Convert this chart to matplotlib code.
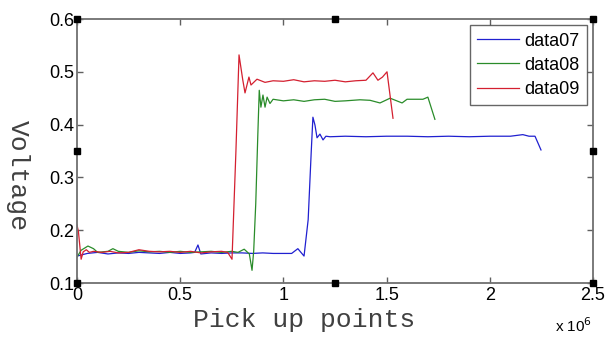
import matplotlib
matplotlib.use("Agg")
import matplotlib.pyplot as plt
from matplotlib.ticker import FuncFormatter

# x positions in units of 1e6 pick up points
x07 = [0, 0.02, 0.05, 0.1, 0.15, 0.2, 0.25, 0.3, 0.35, 0.4, 0.45, 0.5, 0.55, 0.57,
       0.586, 0.6, 0.65, 0.7, 0.75, 0.8, 0.85, 0.9, 0.95, 1.0, 1.04, 1.07, 1.1,
       1.12, 1.135, 1.143, 1.153, 1.163, 1.177, 1.192, 1.206, 1.226, 1.3, 1.4,
       1.5, 1.6, 1.7, 1.8, 1.9, 2.0, 2.1, 2.16, 2.19, 2.219, 2.248]
y07 = [0.151, 0.153, 0.156, 0.158, 0.155, 0.157, 0.156, 0.158, 0.157, 0.156,
       0.158, 0.156, 0.157, 0.158, 0.172, 0.155, 0.157, 0.156, 0.157, 0.157,
       0.156, 0.157, 0.156, 0.156, 0.156, 0.165, 0.151, 0.22, 0.35, 0.414,
       0.399, 0.375, 0.382, 0.371, 0.378, 0.377, 0.378, 0.377, 0.378, 0.378,
       0.377, 0.378, 0.377, 0.378, 0.378, 0.381, 0.378, 0.378, 0.352]

x08 = [0, 0.02, 0.053, 0.08, 0.1, 0.15, 0.174, 0.2, 0.25, 0.3, 0.35, 0.4, 0.45,
       0.5, 0.55, 0.6, 0.65, 0.7, 0.75, 0.78, 0.81, 0.835, 0.848, 0.856, 0.866,
       0.876, 0.883, 0.891, 0.901, 0.911, 0.921, 0.935, 0.95, 1.0, 1.05, 1.1,
       1.15, 1.2, 1.25, 1.3, 1.371, 1.42, 1.468, 1.517, 1.575, 1.599, 1.676,
       1.70, 1.734]
y08 = [0.149, 0.162, 0.17, 0.165, 0.158, 0.16, 0.165, 0.16, 0.158, 0.161,
       0.159, 0.16, 0.158, 0.16, 0.158, 0.159, 0.16, 0.158, 0.16, 0.158, 0.164,
       0.155, 0.124, 0.16, 0.25, 0.38, 0.465, 0.433, 0.456, 0.433, 0.452, 0.44,
       0.448, 0.445, 0.447, 0.444, 0.447, 0.448, 0.444, 0.445, 0.447, 0.446,
       0.441, 0.45, 0.441, 0.448, 0.448, 0.452, 0.41]

x09 = [0, 0.007, 0.02, 0.03, 0.045, 0.06, 0.08, 0.12, 0.16, 0.2, 0.25, 0.3, 0.35,
       0.4, 0.45, 0.5, 0.55, 0.6, 0.65, 0.7, 0.73, 0.751, 0.77, 0.785, 0.803,
       0.814, 0.833, 0.843, 0.872, 0.911, 0.95, 1.0, 1.05, 1.1, 1.15, 1.2,
       1.25, 1.3, 1.35, 1.4, 1.434, 1.458, 1.48, 1.502, 1.531]
y09 = [0.21, 0.197, 0.145, 0.159, 0.163, 0.158, 0.16, 0.158, 0.16, 0.157,
       0.158, 0.163, 0.16, 0.159, 0.16, 0.158, 0.16, 0.157, 0.159, 0.16, 0.158,
       0.145, 0.35, 0.532, 0.485, 0.46, 0.49, 0.475, 0.486, 0.48, 0.483, 0.482,
       0.485, 0.481, 0.483, 0.482, 0.484, 0.481, 0.483, 0.484, 0.498, 0.484,
       0.49, 0.50, 0.412]

series_names = ["data07", "data08", "data09"]
series_colors = ["#2020d0", "#2a8c2a", "#d42030"]

x_ticks = [0, 0.5, 1, 1.5, 2, 2.5]
y_ticks = [0.1, 0.2, 0.3, 0.4, 0.5, 0.6]

plt.rcParams["font.family"] = ["Liberation Sans", "DejaVu Sans"]

fig = plt.figure(figsize=(6.08, 3.38), dpi=100)
ax = fig.add_axes([77 / 608, 1 - 283 / 338, 516 / 608, 264 / 338])

for xs, ys, name, col in zip([x07, x08, x09], [y07, y08, y09], series_names, series_colors):
    ax.plot(xs, ys, color=col, linewidth=0.9, label=name)

ax.set_xlim(0, 2.5)
ax.set_ylim(0.1, 0.6)
ax.set_xticks(x_ticks)
ax.set_yticks(y_ticks)
ax.xaxis.set_major_formatter(FuncFormatter(lambda v, p: "%g" % v))
ax.yaxis.set_major_formatter(FuncFormatter(lambda v, p: "%g" % v))
ax.tick_params(direction="in", length=4, width=1, color="#606060",
               labelsize=13, top=True, right=True, pad=3)
ax.tick_params(axis="y", pad=2)
for s in ax.spines.values():
    s.set_color("#707070")
    s.set_linewidth(1.3)

# MATLAB-style selection handles around the axes box
hx = [0, 0.5, 1, 0, 1, 0, 0.5, 1]
hy = [1, 1, 1, 0.5, 0.5, 0, 0, 0]
ax.plot(hx, hy, "s", color="black", markersize=4, transform=ax.transAxes,
        clip_on=False, zorder=5)

leg = ax.legend(loc="upper right", fontsize=13, frameon=True, fancybox=False,
                handlelength=2.3, handletextpad=0.3, borderpad=0.4,
                labelspacing=0.4, borderaxespad=0.35)
leg.get_frame().set_edgecolor("#404040")
leg.get_frame().set_linewidth(1.0)

fig.text(18 / 608, 1 - 176 / 338, "Voltage", rotation=-90, ha="center",
         va="center", fontsize=19, family="Liberation Mono", color="#404040")
fig.text(304 / 608, 1 - 320 / 338, "Pick up points", ha="center", va="center",
         fontsize=19, family="Liberation Mono", color="#404040")
fig.text(592 / 608, 1 - 326 / 338, r"x 10$^{6}$", ha="right", va="center",
         fontsize=11)

fig.savefig("out.png", dpi=100)
